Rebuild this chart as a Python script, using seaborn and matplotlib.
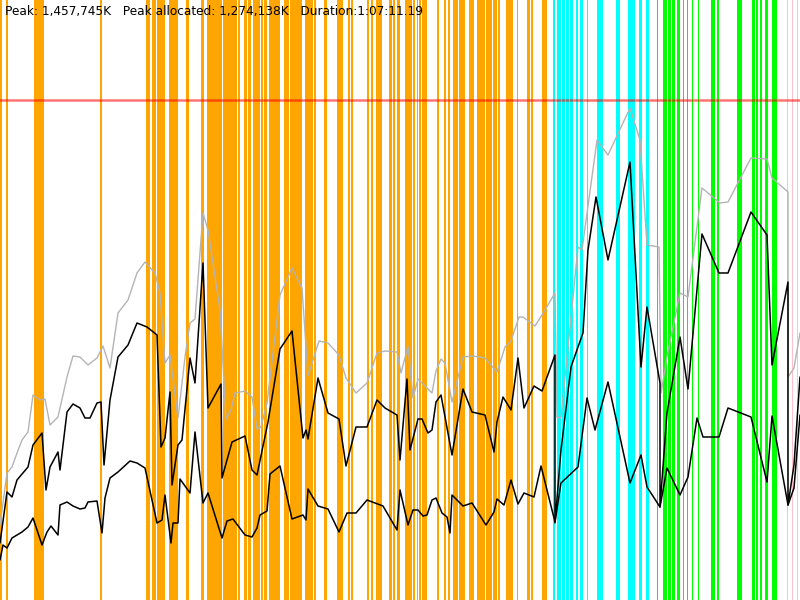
import pandas as pd
import seaborn as sns
import matplotlib.pyplot as plt

sns.set_style("white")
plt.rcParams['font.family'] = ['DejaVu Sans']

# Time axis runs 0..800 (scaled run time), memory in relative height units 0..600
PEAK_LINE = 500
HEADER = "Peak: 1,457,745K   Peak allocated: 1,274,138K   Duration:1:07:11.19"

# GC / event bands (start, end) per kind
orange_events = [(0, 2), (6, 8), (34, 44.3), (100, 101.5),
                 (146, 150), (151.7, 156), (156.7, 165), (169.3, 177.7), (185.7, 189),
                 (201, 204.3), (206.7, 221.7), (223.3, 236.7), (238.3, 240), (244, 246.7),
                 (247.7, 251), (252.7, 260), (260.7, 262.7), (264, 267.3), (268.7, 280),
                 (284, 289), (290, 302.3), (305, 313.3), (314, 315.7), (324, 327), (337, 343),
                 (348, 350), (351, 353), (367, 369), (371, 373), (376, 382), (389, 392),
                 (393, 395), (397, 400), (405, 412), (413, 415), (417, 418), (419, 421),
                 (422, 427), (437, 439), (444, 446), (448, 450), (453, 458), (459, 465),
                 (469, 474), (477, 485), (486, 492), (493, 497), (497.5, 500), (506, 513),
                 (517, 518), (527, 530), (531, 533), (542, 547)]
cyan_events = [(553, 554.5), (557, 561), (561.5, 565), (565.5, 569), (569.5, 573), (576, 578),
               (580, 583), (587, 588), (597, 603), (616, 620), (628, 635), (639, 642), (646, 649)]
green_events = [(657, 658), (663, 667), (667.5, 671), (672, 675), (677, 680), (683, 684),
                (687, 688), (692, 693), (698, 699), (711, 715), (717, 719), (737, 742),
                (752, 755), (755.5, 758), (760, 762), (765, 768), (772, 777)]
pink_events = [(787, 788), (792, 793), (797, 798)]

# heap size (gray)
size_t = [0, 7, 12, 17, 22, 28, 33, 40, 45, 50, 58, 67, 73, 80, 88, 97, 103, 110, 118, 128,
          137, 145, 155, 160, 165, 170, 178, 185, 190, 195, 203, 208, 220, 226, 231, 235, 245,
          252, 257, 261, 267, 280, 292, 302, 308, 319, 328, 339, 346, 356, 367, 377, 385, 397,
          401, 408, 413, 418, 432, 436, 441, 445, 452, 463, 473, 485, 497, 505, 511, 519, 523,
          535, 542, 555, 557, 561, 578, 582, 597, 608, 630, 640, 647, 659, 661, 667, 680, 688,
          702, 720, 728, 751, 767, 772, 788, 788, 794, 800]
size_mem = [75, 127, 133, 147, 160, 168, 205, 200, 201, 175, 183, 223, 244, 243, 235, 242, 254,
            232, 287, 300, 327, 338, 327, 307, 237, 245, 182, 243, 277, 281, 387, 370, 290, 181,
            190, 207, 209, 203, 171, 173, 197, 305, 332, 312, 224, 259, 257, 245, 222, 207, 217,
            247, 249, 248, 227, 254, 202, 221, 207, 229, 241, 237, 198, 243, 244, 242, 228, 253,
            259, 283, 283, 274, 285, 307, 183, 182, 353, 350, 460, 445, 492, 460, 355, 353, 207,
            243, 307, 303, 412, 397, 398, 442, 441, 422, 408, 223, 232, 267]

# used (upper black)
used_t = [0, 7, 12, 17, 28, 33, 42, 46, 50, 58, 60, 67, 73, 80, 85, 90, 97, 101, 104, 110,
          118, 128, 137, 147, 157, 161, 165, 170, 172, 178, 182, 190, 195, 203, 208, 221, 222,
          232, 245, 252, 257, 268, 280, 292, 303, 306, 308, 318, 328, 339, 346, 356, 367, 377,
          385, 397, 400, 407, 410, 418, 422, 428, 432, 436, 441, 452, 463, 472, 485, 494, 497,
          503, 511, 518, 524, 534, 542, 555, 555, 561, 571, 578, 583, 588, 596, 608, 630, 641,
          647, 660, 660, 667, 680, 688, 702, 719, 728, 751, 767, 772, 788, 788, 794, 800]
used_mem = [57, 108, 103, 120, 133, 155, 167, 110, 133, 148, 130, 188, 196, 192, 182, 182, 197,
            198, 135, 200, 243, 255, 277, 273, 265, 153, 162, 208, 115, 155, 160, 242, 217, 337,
            192, 216, 122, 158, 164, 130, 125, 178, 251, 269, 162, 170, 161, 222, 187, 181, 134,
            173, 173, 200, 192, 185, 140, 221, 150, 181, 181, 167, 170, 198, 205, 145, 211, 188,
            185, 148, 178, 203, 190, 242, 192, 214, 209, 245, 77, 150, 233, 253, 267, 350, 403,
            340, 438, 233, 293, 217, 93, 187, 263, 211, 366, 327, 327, 388, 365, 235, 318, 95,
            135, 223]

# live (lower black)
live_t = [0, 3, 7, 12, 17, 22, 28, 33, 42, 47, 51, 58, 60, 67, 73, 80, 85, 88, 97, 102, 105,
          110, 118, 130, 137, 145, 157, 162, 165, 171, 173, 178, 180, 190, 195, 203, 208, 222,
          227, 233, 245, 252, 257, 260, 267, 270, 280, 292, 303, 306, 308, 318, 328, 339, 347,
          356, 367, 383, 397, 400, 408, 413, 418, 423, 427, 432, 436, 442, 447, 450, 452, 463,
          472, 486, 494, 497, 504, 511, 518, 524, 534, 541, 555, 561, 578, 587, 595, 608, 630,
          641, 647, 660, 667, 680, 688, 697, 703, 719, 728, 751, 767, 772, 788, 794, 800]
live_mem = [40, 55, 52, 62, 65, 68, 73, 82, 55, 68, 74, 65, 95, 98, 94, 91, 92, 98, 99, 67, 102,
            122, 128, 139, 137, 132, 77, 80, 105, 57, 77, 77, 121, 107, 168, 97, 107, 62, 79, 81,
            65, 63, 72, 85, 89, 126, 134, 81, 85, 80, 111, 94, 91, 68, 87, 87, 100, 94, 70, 110,
            75, 90, 90, 84, 85, 100, 102, 87, 83, 67, 105, 94, 97, 75, 88, 101, 95, 120, 96, 107,
            103, 134, 78, 117, 133, 202, 170, 218, 117, 145, 113, 93, 132, 105, 123, 182, 163,
            163, 192, 183, 118, 184, 95, 112, 185]

fig = plt.figure(figsize=(8, 6), dpi=100)
ax = fig.add_axes([0, 0, 1, 1])

for events, color in [(orange_events, '#FFA500'), (cyan_events, '#00FFFF'),
                      (green_events, '#00FF00'), (pink_events, '#FFC0CB')]:
    for start, end in events:
        ax.axvspan(start, end, color=color, lw=0, zorder=1)

ax.axhline(PEAK_LINE, color='red', alpha=0.55, lw=1.8, zorder=2)

size_df = pd.DataFrame({'t': size_t, 'mem': size_mem})
used_df = pd.DataFrame({'t': used_t, 'mem': used_mem})
live_df = pd.DataFrame({'t': live_t, 'mem': live_mem})
sns.lineplot(data=size_df, x='t', y='mem', sort=False, estimator=None, color='#B4B4B4', lw=1.0, ax=ax, zorder=3)
sns.lineplot(data=used_df, x='t', y='mem', sort=False, estimator=None, color='black', lw=1.1, ax=ax, zorder=4)
sns.lineplot(data=live_df, x='t', y='mem', sort=False, estimator=None, color='black', lw=1.1, ax=ax, zorder=4)

ax.set_xlim(0, 800)
ax.set_ylim(0, 600)
ax.axis('off')

fig.text(5 / 800, 1 - 12 / 600, HEADER, fontsize=8.7, va='center', ha='left', color='black')

fig.savefig('out.png', dpi=100)
